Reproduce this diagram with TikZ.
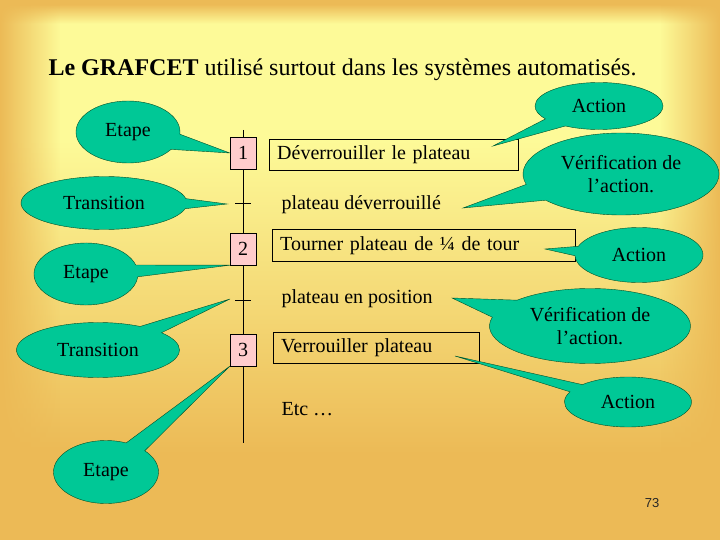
\documentclass[tikz,border=0pt]{standalone}
\usepackage{fontspec}
\setmainfont{Liberation Serif}
\newfontfamily\numfont{Liberation Sans}
\usetikzlibrary{shapes.callouts, fadings, positioning}

\definecolor{fondjaune}{RGB}{253,250,152}
\definecolor{fondorange}{RGB}{236,186,86}
\definecolor{bulle}{RGB}{0,200,150}
\definecolor{bullebord}{RGB}{0,80,40}
\definecolor{etaperose}{RGB}{255,204,204}

\pgfdeclareverticalshading{fondslide}{100bp}{color(0bp)=(fondorange); color(25bp)=(fondorange);
  color(33bp)=(fondorange); color(62bp)=(fondjaune); color(72.8bp)=(fondjaune);
  color(74.6bp)=(fondorange); color(100bp)=(fondorange)}
\tikzfading[name=vers droite, left color=transparent!0, right color=transparent!100]
\tikzfading[name=vers gauche, left color=transparent!100, right color=transparent!0]

\begin{document}
\begin{tikzpicture}[x=1pt, y=-1pt,
  etapebox/.style={draw, fill=etaperose, minimum width=26pt, minimum height=32pt,
                   inner sep=0pt, font=\fontsize{20}{23}\selectfont},
  actionbox/.style={draw, anchor=north west, inner xsep=8pt, inner ysep=0pt,
                    align=left, font=\fontsize{20}{23}\selectfont},
  recep/.style={anchor=base west, font=\fontsize{20}{23}\selectfont},
  bulle/.style={ellipse callout, draw=bullebord, fill=bulle, inner sep=0pt,
                align=center, font=\fontsize{20}{23}\selectfont}
]
  % fond
  \shade[shading=fondslide] (0,0) rectangle (720,540);
  \fill[fondorange, path fading=vers droite] (0,0) rectangle (60,540);
  \fill[fondorange, path fading=vers gauche] (660,0) rectangle (720,540);
  \useasboundingbox (0,0) rectangle (720,540);

  \node[anchor=base west, font=\fontsize{24}{28}\selectfont] (titre) at (45,76)
    {\textbf{Le GRAFCET} utilisé surtout dans les systèmes automatisés.};

  % grafcet
  \coordinate (haut) at (243,130);
  \node[etapebox] (e1) at (243,153) {1};
  \coordinate (t1) at (243,203);
  \node[etapebox] (e2) at (243,249) {2};
  \coordinate (t2) at (243,300);
  \node[etapebox] (e3) at (243,350) {3};
  \coordinate (bas) at (243,443);
  \draw (haut) -- (e1) -- (e2) -- (e3) -- (bas);
  \draw ([xshift=-8pt]t1) -- ([xshift=8pt]t1);
  \draw ([xshift=-8pt]t2) -- ([xshift=8pt]t2);

  \node[actionbox, text width=233pt, minimum height=31pt] (a1) at (269,139) {Déverrouiller le plateau};
  \node[recep] (r1) at (278,210) {plateau déverrouillé};
  \node[actionbox, text width=287pt, minimum height=32pt] (a2) at (272,229) {Tourner plateau de ¼ de tour};
  \node[recep] (r2) at (278,303) {plateau en position};
  \node[actionbox, text width=190pt, minimum height=31pt] (a3) at (273,332) {Verrouiller plateau};
  \node[recep] (etc) at (278,415) {Etc …};

  % pointes des bulles
  \coordinate (pt1) at (227,204);
  \coordinate (pt2) at (230,299);
  \coordinate (pa1) at (493,146);
  \coordinate (pv1) at (463,208);
  \coordinate (pa2) at (545,249);
  \coordinate (pv2) at (452,298);
  \coordinate (pa3) at (455,356);

  % bulles
  \node[bulle, minimum width=104pt, minimum height=62pt, callout absolute pointer={(e1.west)},
        callout pointer arc=30] (be1) at (128,132) {Etape};
  \node[bulle, minimum width=166pt, minimum height=53pt, callout absolute pointer={(pt1)},
        callout pointer arc=22] (bt1) at (104,203) {Transition};
  \node[bulle, minimum width=104pt, minimum height=62pt, callout absolute pointer={(e2.south west)},
        callout pointer arc=22] (be2) at (86,274) {Etape};
  \node[bulle, minimum width=163pt, minimum height=55pt, callout absolute pointer={(pt2)},
        callout pointer arc=20] (bt2) at (98,350) {Transition};
  \node[bulle, minimum width=105pt, minimum height=63pt, callout absolute pointer={(e3.south west)},
        callout pointer arc=25] (be3) at (106,472) {Etape};

  \node[bulle, minimum width=128pt, minimum height=47pt, callout absolute pointer={(pa1)},
        callout pointer arc=25] (ba1) at (599,106) {Action};
  \node[bulle, minimum width=196pt, minimum height=82pt, callout absolute pointer={(pv1)},
        callout pointer arc=25] (bv1) at (621,174) {Vérification de\\l’action.};
  \node[bulle, minimum width=128pt, minimum height=55pt, callout absolute pointer={(pa2)},
        callout pointer arc=20] (ba2) at (639,255) {Action};
  \node[bulle, minimum width=201pt, minimum height=75pt, callout absolute pointer={(pv2)},
        callout pointer arc=30] (bv2) at (590,326) {Vérification de\\l’action.};
  \node[bulle, minimum width=127pt, minimum height=50pt, callout absolute pointer={(pa3)},
        callout pointer arc=20] (ba3) at (628,402) {Action};

  \node[font=\numfont\fontsize{13}{15}\selectfont, text=black!85] (page) at (652,503) {73};
\end{tikzpicture}
\end{document}
